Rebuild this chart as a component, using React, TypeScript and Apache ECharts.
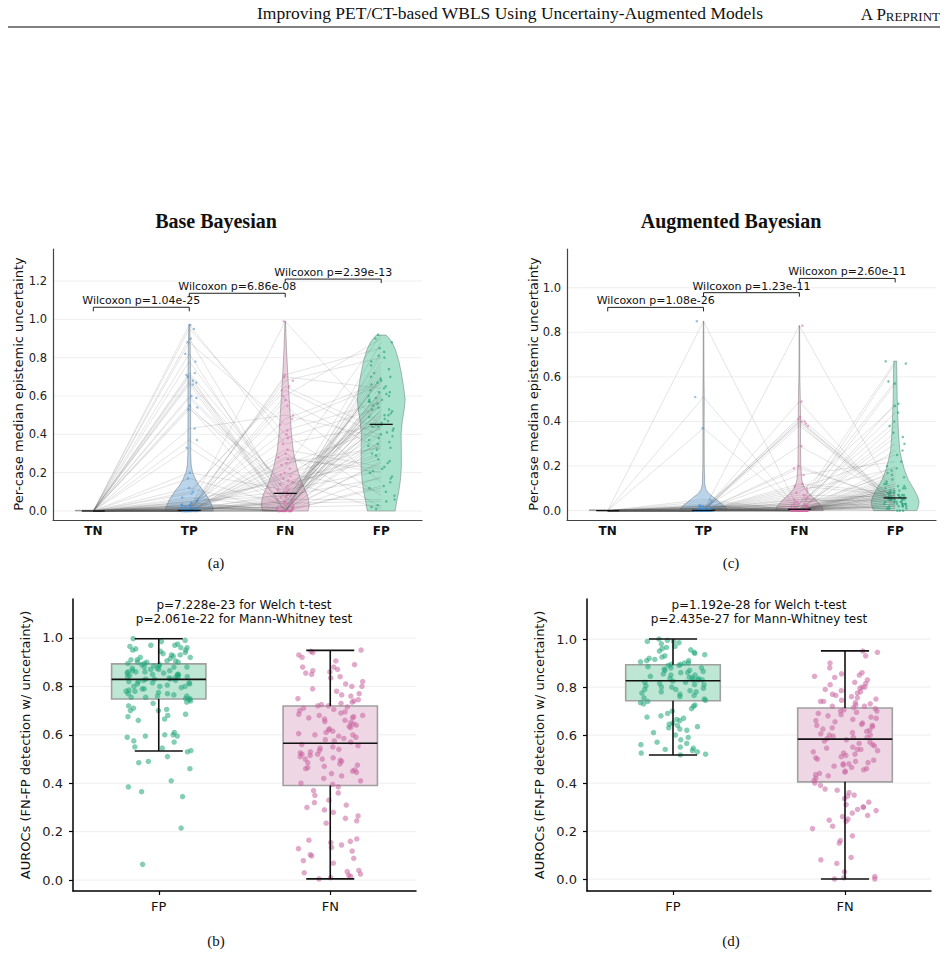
import React, { useEffect, useRef } from "react";
import * as echarts from "echarts";

// ---------- categories, ticks, texts ----------
const violinCats = ["TN", "TP", "FN", "FP"];
const boxCats = ["FP", "FN"];
const yTicksA = [0, 0.2, 0.4, 0.6, 0.8, 1.0, 1.2];
const yTicksC = [0, 0.2, 0.4, 0.6, 0.8, 1.0];
const yTicksBox = [0, 0.2, 0.4, 0.6, 0.8, 1.0];

const headerTitle = "Improving PET/CT-based WBLS Using Uncertainy-Augmented Models";
const panelTitles = ["Base Bayesian", "Augmented Bayesian"];
const panelTags = ["(a)", "(c)", "(b)", "(d)"];
const violinYLabel = "Per-case median epistemic uncertainty";
const boxYLabel = "AUROCs (FN-FP detection w/ uncertainty)";

const wilcoxonA = ["Wilcoxon p=1.04e-25", "Wilcoxon p=6.86e-08", "Wilcoxon p=2.39e-13"];
const wilcoxonC = ["Wilcoxon p=1.08e-26", "Wilcoxon p=1.23e-11", "Wilcoxon p=2.60e-11"];
const bracketPairs = [[0, 1], [1, 2], [2, 3]];
const bracketYA = [1.063, 1.136, 1.21];
const bracketYC = [0.912, 0.978, 1.042];

const testsB = ["p=7.228e-23 for Welch t-test", "p=2.061e-22 for Mann-Whitney test"];
const testsD = ["p=1.192e-28 for Welch t-test", "p=2.435e-27 for Mann-Whitney test"];

// ---------- panel (a): per-case medians, Base Bayesian ----------
const tnA = [
  0, 0, 0, 0, 0, 0, 0, 0, 0, 0, 0, 0, 0, 0, 0, 0, 0, 0, 0, 0,
  0, 0, 0, 0, 0, 0, 0, 0, 0, 0, 0, 0, 0, 0, 0, 0, 0, 0, 0, 0,
  0, 0, 0, 0, 0, 0, 0, 0, 0, 0, 0, 0, 0, 0, 0, 0, 0, 0, 0, 0,
  0, 0, 0, 0, 0, 0, 0, 0, 0, 0, 0, 0, 0, 0, 0, 0, 0, 0, 0, 0,
];
const tpA = [
  0.01, 0.97, 0.0, 0.02, 0.72, 0.005, 0.03, 0.0, 0.55, 0.01,
  0.04, 0.0, 0.88, 0.02, 0.006, 0.17, 0.0, 0.06, 0.68, 0.01,
  0.0, 0.03, 0.6, 0.008, 0.0, 0.95, 0.02, 0.05, 0.0, 0.33,
  0.012, 0.0, 0.7, 0.025, 0.0, 0.09, 0.54, 0.004, 0.0, 0.015,
  0.78, 0.0, 0.035, 0.01, 0.43, 0.0, 0.07, 0.02, 0.0, 0.67,
  0.005, 0.0, 0.12, 0.03, 0.59, 0.0, 0.01, 0.045, 0.9, 0.0,
  0.02, 0.37, 0.0, 0.008, 0.66, 0.0, 0.015, 0.2, 0.0, 0.03,
  0.53, 0.0, 0.01, 0.1, 0.71, 0.002, 0.0, 0.05, 0.82, 0.0,
];
const fnA = [
  0.02, 0.35, 0.0, 0.68, 0.12, 0.04, 0.0, 0.25, 0.07, 0.6,
  0.01, 0.18, 0.45, 0.0, 0.09, 0.03, 0.71, 0.15, 0.0, 0.3,
  0.05, 0.0, 0.11, 0.99, 0.02, 0.4, 0.0, 0.08, 0.22, 0.01,
  0.55, 0.06, 0.0, 0.14, 0.03, 0.65, 0.0, 0.2, 0.05, 0.0,
  0.1, 0.28, 0.01, 0.0, 0.5, 0.07, 0.02, 0.38, 0.0, 0.13,
  0.04, 0.7, 0.0, 0.17, 0.09, 0.01, 0.32, 0.0, 0.06, 0.48,
  0.0, 0.03, 0.24, 0.08, 0.0, 0.58, 0.02, 0.11, 0.0, 0.42,
  0.16, 0.0, 0.05, 0.63, 0.01, 0.27, 0.0, 0.1, 0.04, 0.19,
];
const fpA = [
  0.62, 0.45, 0.18, 0.8, 0.52, 0.05, 0.7, 0.33, 0.58, 0.9,
  0.25, 0.48, 0.66, 0.12, 0.55, 0.4, 0.85, 0.3, 0.6, 0.02,
  0.5, 0.74, 0.21, 0.44, 0.63, 0.08, 0.57, 0.36, 0.92, 0.47,
  0.15, 0.68, 0.53, 0.27, 0.61, 0.42, 0.78, 0.1, 0.56, 0.35,
  0.65, 0.2, 0.49, 0.72, 0.38, 0.59, 0.03, 0.54, 0.83, 0.29,
  0.46, 0.64, 0.13, 0.51, 0.41, 0.76, 0.23, 0.58, 0.06, 0.67,
  0.37, 0.88, 0.43, 0.17, 0.6, 0.32, 0.7, 0.5, 0.26, 0.57,
  0.01, 0.45, 0.62, 0.39, 0.81, 0.22, 0.53, 0.44, 0.69, 0.34,
];
const mediansA = [0.0, 0.003, 0.092, 0.452];

// ---------- panel (c): per-case medians, Augmented Bayesian ----------
const tnC = [
  0, 0, 0, 0, 0, 0, 0, 0, 0, 0, 0, 0, 0, 0, 0, 0, 0, 0, 0, 0,
  0, 0, 0, 0, 0, 0, 0, 0, 0, 0, 0, 0, 0, 0, 0, 0, 0, 0, 0, 0,
  0, 0, 0, 0, 0, 0, 0, 0, 0, 0, 0, 0, 0, 0, 0, 0, 0, 0, 0, 0,
  0, 0, 0, 0, 0, 0, 0, 0, 0, 0, 0, 0, 0, 0, 0, 0, 0, 0, 0, 0,
];
const tpC = [
  0.0, 0.01, 0.0, 0.85, 0.005, 0.0, 0.02, 0.0, 0.01, 0.0,
  0.003, 0.0, 0.51, 0.0, 0.01, 0.0, 0.02, 0.0, 0.004, 0.0,
  0.0, 0.015, 0.0, 0.0, 0.37, 0.0, 0.008, 0.0, 0.0, 0.01,
  0.0, 0.04, 0.0, 0.002, 0.0, 0.0, 0.012, 0.0, 0.0, 0.006,
  0.0, 0.0, 0.02, 0.0, 0.05, 0.0, 0.0, 0.01, 0.0, 0.0,
  0.003, 0.0, 0.0, 0.025, 0.0, 0.0, 0.008, 0.0, 0.0, 0.0,
  0.01, 0.0, 0.0, 0.03, 0.0, 0.0, 0.004, 0.0, 0.015, 0.0,
  0.0, 0.006, 0.0, 0.0, 0.02, 0.0, 0.0, 0.01, 0.0, 0.0,
];
const fnC = [
  0.01, 0.0, 0.4, 0.0, 0.03, 0.0, 0.02, 0.83, 0.0, 0.05,
  0.0, 0.01, 0.0, 0.08, 0.0, 0.42, 0.0, 0.02, 0.0, 0.1,
  0.0, 0.03, 0.49, 0.0, 0.0, 0.01, 0.0, 0.06, 0.38, 0.0,
  0.02, 0.0, 0.12, 0.0, 0.01, 0.0, 0.39, 0.0, 0.04, 0.0,
  0.0, 0.2, 0.0, 0.01, 0.0, 0.07, 0.0, 0.41, 0.0, 0.02,
  0.0, 0.16, 0.0, 0.0, 0.03, 0.0, 0.29, 0.0, 0.01, 0.0,
  0.05, 0.0, 0.19, 0.0, 0.02, 0.0, 0.0, 0.09, 0.0, 0.4,
  0.0, 0.01, 0.0, 0.04, 0.0, 0.11, 0.0, 0.0, 0.02, 0.0,
];
const fpC = [
  0.05, 0.12, 0.03, 0.02, 0.67, 0.08, 0.01, 0.06, 0.35, 0.04,
  0.1, 0.0, 0.07, 0.47, 0.02, 0.05, 0.15, 0.09, 0.03, 0.25,
  0.06, 0.58, 0.01, 0.11, 0.04, 0.3, 0.07, 0.0, 0.05, 0.18,
  0.44, 0.03, 0.08, 0.13, 0.06, 0.66, 0.02, 0.2, 0.05, 0.09,
  0.38, 0.04, 0.07, 0.01, 0.27, 0.06, 0.14, 0.03, 0.57, 0.08,
  0.05, 0.22, 0.0, 0.1, 0.4, 0.04, 0.06, 0.16, 0.02, 0.48,
  0.07, 0.33, 0.05, 0.12, 0.03, 0.09, 0.06, 0.19, 0.01, 0.05,
  0.08, 0.04, 0.11, 0.06, 0.02, 0.07, 0.03, 0.05, 0.17, 0.1,
];
const mediansC = [0.0, 0.001, 0.006, 0.057];

// ---------- violin densities: [value, relative density] ----------
const densityA_TN = [[0, 0.75], [0.004, 0.75]];
const densityA_TP = [[0, 1.0], [0.02, 0.97], [0.057, 0.84], [0.085, 0.7], [0.11, 0.56], [0.135, 0.4], [0.16, 0.28], [0.2, 0.14], [0.24, 0.08], [0.3, 0.06], [0.5, 0.055], [0.7, 0.055], [0.85, 0.04], [0.975, 0.02]];
const densityA_FN = [[0, 0.95], [0.03, 1.0], [0.06, 0.97], [0.09, 0.9], [0.14, 0.72], [0.18, 0.6], [0.23, 0.48], [0.31, 0.34], [0.4, 0.26], [0.5, 0.21], [0.58, 0.17], [0.66, 0.13], [0.75, 0.09], [0.85, 0.05], [0.93, 0.03], [0.99, 0.01]];
const densityA_FP = [[0, 0.58], [0.05, 0.65], [0.1, 0.73], [0.16, 0.8], [0.23, 0.84], [0.3, 0.84], [0.4, 0.83], [0.47, 0.88], [0.53, 0.96], [0.58, 1.0], [0.65, 0.93], [0.72, 0.84], [0.78, 0.74], [0.84, 0.6], [0.88, 0.45], [0.905, 0.3], [0.918, 0.2]];
const densityC_TN = [[0, 0.77], [0.004, 0.77]];
const densityC_TP = [[0, 1], [0.01, 0.97], [0.02, 0.88], [0.035, 0.7], [0.048, 0.56], [0.065, 0.36], [0.078, 0.21], [0.095, 0.1], [0.12, 0.05], [0.2, 0.03], [0.4, 0.025], [0.5, 0.03], [0.6, 0.02], [0.85, 0.01]];
const densityC_FN = [[0, 1], [0.018, 0.94], [0.03, 0.84], [0.048, 0.69], [0.065, 0.52], [0.078, 0.39], [0.095, 0.26], [0.108, 0.19], [0.125, 0.13], [0.14, 0.1], [0.2, 0.06], [0.3, 0.05], [0.4, 0.05], [0.5, 0.04], [0.6, 0.02], [0.7, 0.015], [0.83, 0.01]];
const densityC_FP = [[0, 0.9], [0.018, 0.97], [0.041, 1.0], [0.063, 0.94], [0.093, 0.8], [0.138, 0.55], [0.182, 0.39], [0.227, 0.28], [0.272, 0.19], [0.347, 0.14], [0.42, 0.11], [0.5, 0.085], [0.58, 0.075], [0.671, 0.06]];

// ---------- panel (b): AUROCs, Base Bayesian ----------
const aurocB_FP = [
  0.997, 0.99, 0.985, 0.975, 0.97, 0.97, 0.965, 0.96, 0.96, 0.955, 0.95, 0.95, 0.945, 0.94, 0.935,
  0.93, 0.93, 0.925, 0.92, 0.92, 0.915, 0.91, 0.91, 0.905, 0.905, 0.9, 0.9, 0.9, 0.895, 0.895,
  0.89, 0.89, 0.885, 0.885, 0.88, 0.88, 0.88, 0.875, 0.875, 0.87, 0.87, 0.865, 0.865, 0.86, 0.86,
  0.86, 0.855, 0.855, 0.85, 0.85, 0.85, 0.845, 0.845, 0.84, 0.84, 0.84, 0.835, 0.835, 0.83, 0.83, 0.83,
  0.825, 0.825, 0.82, 0.82, 0.815, 0.815, 0.81, 0.81, 0.805, 0.8, 0.8, 0.8, 0.795, 0.79, 0.79,
  0.785, 0.78, 0.78, 0.775, 0.77, 0.77, 0.765, 0.76, 0.76, 0.755, 0.755, 0.75, 0.75,
  0.745, 0.74, 0.735, 0.73, 0.72, 0.71, 0.705, 0.7, 0.7, 0.685, 0.68, 0.675, 0.665, 0.66,
  0.61, 0.6, 0.6, 0.595, 0.595, 0.59, 0.575, 0.57, 0.55, 0.545, 0.535, 0.53, 0.51, 0.49, 0.485,
  0.46, 0.41, 0.385, 0.365, 0.345, 0.215, 0.065,
];
const aurocB_FN = [
  0.95, 0.945, 0.94, 0.93, 0.92, 0.905, 0.89, 0.88, 0.88, 0.87, 0.865, 0.86, 0.855,
  0.85, 0.84, 0.835, 0.82, 0.81, 0.8, 0.8, 0.79, 0.78, 0.77, 0.765, 0.76, 0.75, 0.745, 0.74, 0.735, 0.73, 0.725, 0.72, 0.72,
  0.715, 0.71, 0.705, 0.7, 0.695, 0.69, 0.685, 0.68, 0.68, 0.675, 0.67, 0.67, 0.665, 0.66, 0.655, 0.65, 0.645, 0.64,
  0.635, 0.63, 0.625, 0.62, 0.615, 0.61, 0.605, 0.6, 0.6, 0.595, 0.59, 0.585, 0.58, 0.575, 0.57,
  0.56, 0.555, 0.55, 0.545, 0.54, 0.535, 0.53, 0.525, 0.52, 0.52, 0.515, 0.51, 0.505, 0.5, 0.5, 0.495,
  0.49, 0.485, 0.48, 0.475, 0.47, 0.465, 0.46, 0.455, 0.45, 0.445, 0.44, 0.43, 0.42, 0.41, 0.4, 0.395,
  0.385, 0.37, 0.36, 0.35, 0.33, 0.32, 0.31, 0.3, 0.29, 0.28, 0.265, 0.255, 0.245, 0.235,
  0.17, 0.165, 0.16, 0.155, 0.145, 0.135, 0.13, 0.12, 0.105, 0.1, 0.09, 0.08, 0.07, 0.04, 0.035,
  0.03, 0.025, 0.02, 0.015, 0.01, 0.005,
];
const boxB_FP = [0.533, 0.748, 0.829, 0.893, 0.997];
const boxB_FN = [0.005, 0.391, 0.565, 0.719, 0.949];

// ---------- panel (d): AUROCs, Augmented Bayesian ----------
const aurocD_FP = [
  1.0, 0.995, 0.99, 0.99, 0.985, 0.98, 0.97, 0.965, 0.96, 0.955, 0.95, 0.945, 0.94, 0.935, 0.93,
  0.925, 0.92, 0.915, 0.91, 0.91, 0.905, 0.9, 0.9, 0.895, 0.895,
  0.89, 0.89, 0.885, 0.88, 0.88, 0.875, 0.87, 0.87, 0.865, 0.86, 0.86, 0.855, 0.85, 0.85, 0.845,
  0.84, 0.84, 0.835, 0.835, 0.83, 0.83, 0.83,
  0.825, 0.82, 0.82, 0.815, 0.81, 0.81, 0.805, 0.8, 0.8, 0.795, 0.79, 0.79, 0.785, 0.78, 0.78,
  0.775, 0.77, 0.765, 0.76, 0.755, 0.75, 0.745,
  0.74, 0.735, 0.73, 0.725, 0.72, 0.71, 0.7, 0.69, 0.68, 0.675, 0.67, 0.665, 0.66, 0.65, 0.645,
  0.64, 0.635, 0.63, 0.625, 0.62, 0.61, 0.6, 0.59, 0.58, 0.57, 0.565, 0.56, 0.55, 0.545, 0.54,
  0.535, 0.53, 0.525, 0.52, 0.517,
];
const aurocD_FN = [
  0.95, 0.945, 0.93, 0.9, 0.88, 0.86, 0.855, 0.85, 0.845, 0.84, 0.83, 0.82, 0.815, 0.81, 0.8, 0.8,
  0.795, 0.79, 0.785, 0.78, 0.775, 0.77, 0.765, 0.76, 0.755, 0.75, 0.745, 0.74, 0.74, 0.735, 0.73,
  0.725, 0.72, 0.72, 0.715,
  0.71, 0.705, 0.7, 0.7, 0.695, 0.69, 0.685, 0.68, 0.675, 0.67, 0.665, 0.66, 0.655, 0.65, 0.645,
  0.64, 0.64, 0.635, 0.63, 0.625, 0.62, 0.615, 0.61, 0.605, 0.6, 0.6, 0.595, 0.59, 0.59, 0.585, 0.58,
  0.575, 0.57, 0.565, 0.56, 0.555, 0.55, 0.545, 0.54, 0.54, 0.535, 0.53, 0.525, 0.52, 0.515, 0.51,
  0.505, 0.5, 0.495, 0.49, 0.485, 0.48, 0.48, 0.475, 0.47, 0.465, 0.46, 0.455, 0.45, 0.445, 0.44,
  0.435, 0.43, 0.42, 0.41,
  0.4, 0.39, 0.375, 0.37, 0.36, 0.35, 0.345, 0.335, 0.32, 0.31, 0.3, 0.3, 0.29, 0.285, 0.275,
  0.265, 0.26, 0.25, 0.245, 0.24, 0.22, 0.21,
  0.18, 0.16, 0.15, 0.09, 0.08, 0.065, 0.03, 0.01, 0.005, 0.0, 0.0,
];
const boxD_FP = [0.517, 0.743, 0.826, 0.893, 1.0];
const boxD_FN = [0.0, 0.405, 0.583, 0.713, 0.951];

// ---------- styling constants ----------
const W = 948;
const H = 964;
const FONT = '"DejaVu Sans"';
const SERIF = '"Liberation Serif"';
const VIOLIN_HALF = 0.25;
const MEDIAN_HALF = 0.12;
const BOX_HALF = 0.275;
const CAP_HALF = 0.14;
const VIOLIN_JITTER = 0.09;
const BOX_JITTER = 0.19;
const violinFill = ["#cfcfcf", "#b9d4eb", "#eccdde", "#a8e2cd"];
const violinDot = ["#888888", "#4a8fd0", "#d36ba6", "#1e9e73"];
const boxFill = ["#bee6d5", "#eed6e5"];
const boxDot = ["#1fa67a", "#c9659f"];

// deterministic visual jitter (horizontal spread only)
const jit = (i: number, j: number, seed: number) => {
  const s = Math.sin((i + 1) * 12.9898 + seed * 78.233) * 43758.5453;
  return (s - Math.floor(s) - 0.5) * 2 * j;
};

function gridLines(idx: number, ticks: number[], xMin: number, xMax: number) {
  return {
    type: "custom", xAxisIndex: idx, yAxisIndex: idx, silent: true, z: 0,
    data: ticks.map((t) => [xMin, t]),
    renderItem: (params: any, api: any) => {
      const v = api.value(1);
      const p1 = api.coord([xMin, v]);
      const p2 = api.coord([xMax, v]);
      return { type: "line", shape: { x1: p1[0], y1: p1[1], x2: p2[0], y2: p2[1] }, style: { stroke: "#eeeeee", lineWidth: 1 } };
    },
  };
}

function violins(idx: number, profiles: number[][][]) {
  return {
    type: "custom", xAxisIndex: idx, yAxisIndex: idx, silent: true, z: 1,
    data: profiles.map((_, i) => [i, 0]),
    renderItem: (params: any, api: any) => {
      const i = params.dataIndex;
      const prof = profiles[i];
      const right = prof.map(([v, d]) => api.coord([i + d * VIOLIN_HALF, v]));
      const left = prof.slice().reverse().map(([v, d]) => api.coord([i - d * VIOLIN_HALF, v]));
      return {
        type: "polygon",
        shape: { points: right.concat(left) },
        style: { fill: violinFill[i], stroke: "rgba(70,70,70,0.5)", lineWidth: 0.7 },
      };
    },
  };
}

function pairedLines(idx: number, tn: number[], tp: number[], fn: number[], fp: number[]) {
  return {
    type: "custom", xAxisIndex: idx, yAxisIndex: idx, silent: true, z: 2,
    data: tn.map((v, i) => [0, v, tp[i], fn[i], fp[i]]),
    renderItem: (params: any, api: any) => {
      const pts = [0, 1, 2, 3].map((k) => api.coord([k, api.value(k + 1)]));
      return { type: "polyline", shape: { points: pts }, style: { stroke: "rgba(90,90,90,0.24)", lineWidth: 0.7, fill: "none" } };
    },
  };
}

function dots(idx: number, cat: number, vals: number[], color: string, j: number, size: number, opacity: number, seed: number) {
  return {
    type: "scatter", xAxisIndex: idx, yAxisIndex: idx, silent: true, z: 3,
    symbolSize: size,
    itemStyle: { color, opacity },
    data: vals.map((v, i) => [cat + jit(i, j, seed), v]),
  };
}

function medians(idx: number, meds: number[]) {
  return {
    type: "custom", xAxisIndex: idx, yAxisIndex: idx, silent: true, z: 4,
    data: meds.map((m, i) => [i, m]),
    renderItem: (params: any, api: any) => {
      const c = api.value(0);
      const m = api.value(1);
      const p1 = api.coord([c - MEDIAN_HALF, m]);
      const p2 = api.coord([c + MEDIAN_HALF, m]);
      return { type: "line", shape: { x1: p1[0], y1: p1[1], x2: p2[0], y2: p2[1] }, style: { stroke: "#111", lineWidth: 1.3 } };
    },
  };
}

function brackets(idx: number, ys: number[], labels: string[]) {
  return {
    type: "custom", xAxisIndex: idx, yAxisIndex: idx, silent: true, z: 5,
    data: bracketPairs.map((p, i) => [p[0], ys[i], p[1]]),
    renderItem: (params: any, api: any) => {
      const a = api.coord([api.value(0), api.value(1)]);
      const b = api.coord([api.value(2), api.value(1)]);
      const mid = (a[0] + b[0]) / 2;
      return {
        type: "group",
        children: [
          {
            type: "polyline",
            shape: { points: [[a[0], a[1] + 4], [a[0], a[1]], [b[0], b[1]], [b[0], b[1] + 4]] },
            style: { stroke: "#222", lineWidth: 1, fill: "none" },
          },
          {
            type: "text", x: mid, y: a[1] - 1,
            style: {
              text: labels[params.dataIndex], fill: "#111", font: `11px ${FONT}`,
              align: "center", verticalAlign: "bottom", textAlign: "center", textVerticalAlign: "bottom",
            },
          },
        ],
      };
    },
  };
}

function boxRects(idx: number, stats: number[][]) {
  return {
    type: "custom", xAxisIndex: idx, yAxisIndex: idx, silent: true, z: 1,
    data: stats.map((s, i) => [i, ...s]),
    renderItem: (params: any, api: any) => {
      const c = api.value(0);
      const p1 = api.coord([c - BOX_HALF, api.value(4)]);
      const p2 = api.coord([c + BOX_HALF, api.value(2)]);
      return {
        type: "rect",
        shape: { x: p1[0], y: p1[1], width: p2[0] - p1[0], height: p2[1] - p1[1] },
        style: { fill: boxFill[params.dataIndex], stroke: "#a0a0a0", lineWidth: 1.6 },
      };
    },
  };
}

function boxLines(idx: number, stats: number[][]) {
  return {
    type: "custom", xAxisIndex: idx, yAxisIndex: idx, silent: true, z: 4,
    data: stats.map((s, i) => [i, ...s]),
    renderItem: (params: any, api: any) => {
      const c = api.value(0);
      const mn = api.value(1), q1 = api.value(2), md = api.value(3), q3 = api.value(4), mx = api.value(5);
      const seg = (x1: number, y1: number, x2: number, y2: number) => {
        const a = api.coord([x1, y1]);
        const b = api.coord([x2, y2]);
        return { type: "line", shape: { x1: a[0], y1: a[1], x2: b[0], y2: b[1] }, style: { stroke: "#111", lineWidth: 1.6 } };
      };
      return {
        type: "group",
        children: [
          seg(c, q1, c, mn),
          seg(c, q3, c, mx),
          seg(c - CAP_HALF, mn, c + CAP_HALF, mn),
          seg(c - CAP_HALF, mx, c + CAP_HALF, mx),
          seg(c - BOX_HALF, md, c + BOX_HALF, md),
        ],
      };
    },
  };
}

function violinX(gi: number, min: number, max: number) {
  return {
    type: "value", gridIndex: gi, min, max,
    axisLine: { show: true, onZero: false, lineStyle: { color: "#444", width: 1.2 } },
    axisTick: { show: false },
    splitLine: { show: false },
    axisLabel: {
      customValues: [0, 1, 2, 3],
      formatter: (v: number) => violinCats[Math.round(v)],
      fontWeight: "bold", fontSize: 12, color: "#111", margin: 5, fontFamily: "DejaVu Sans",
    },
  };
}

function violinY(gi: number, min: number, max: number, ticks: number[]) {
  return {
    type: "value", gridIndex: gi, min, max,
    axisLine: { show: true, onZero: false, lineStyle: { color: "#444", width: 1.2 } },
    axisTick: { show: false },
    splitLine: { show: false },
    axisLabel: {
      customValues: ticks,
      formatter: (v: number) => v.toFixed(1),
      fontSize: 11.5, color: "#222", margin: 6, fontFamily: "DejaVu Sans",
    },
  };
}

function boxX(gi: number) {
  return {
    type: "value", gridIndex: gi, min: -0.5, max: 1.5,
    axisLine: { show: true, onZero: false, lineStyle: { color: "#000", width: 1.5 } },
    axisTick: { show: true, customValues: [0, 1], length: 4, lineStyle: { color: "#000", width: 1.2 } },
    splitLine: { show: false },
    axisLabel: {
      customValues: [0, 1],
      formatter: (v: number) => boxCats[Math.round(v)],
      fontSize: 13, color: "#111", margin: 9, fontFamily: "DejaVu Sans",
    },
  };
}

function boxY(gi: number, min: number, max: number) {
  return {
    type: "value", gridIndex: gi, min, max,
    axisLine: { show: true, onZero: false, lineStyle: { color: "#000", width: 1.5 } },
    axisTick: { show: true, customValues: yTicksBox, length: 4, lineStyle: { color: "#000", width: 1.2 } },
    splitLine: { show: false },
    axisLabel: {
      customValues: yTicksBox,
      formatter: (v: number) => v.toFixed(1),
      fontSize: 13, color: "#222", margin: 10, fontFamily: "DejaVu Sans",
    },
  };
}

function txt(text: string, x: number, y: number, font: string, extra: any = {}) {
  return {
    type: "text", x, y, silent: true, ...extra,
    style: { text, font, fill: "#111", align: "center", verticalAlign: "middle", textAlign: "center", textVerticalAlign: "middle", ...(extra.style || {}) },
  };
}

function buildOption() {
  const xA = [-0.42, 3.425];
  const xC = [-0.425, 3.426];
  return {
    animation: false,
    backgroundColor: "#ffffff",
    textStyle: { fontFamily: "DejaVu Sans" },
    grid: [
      { left: 53, top: 249, width: 369, height: 271 },
      { left: 567, top: 249, width: 369, height: 271 },
      { left: 73, top: 599, width: 343, height: 292 },
      { left: 587, top: 599, width: 344, height: 292 },
    ],
    xAxis: [violinX(0, xA[0], xA[1]), violinX(1, xC[0], xC[1]), boxX(2), boxX(3)],
    yAxis: [
      violinY(0, -0.047, 1.367, yTicksA),
      violinY(1, -0.042, 1.174, yTicksC),
      boxY(2, -0.045, 1.161),
      boxY(3, -0.05, 1.167),
    ],
    series: [
      // panel (a)
      gridLines(0, yTicksA, xA[0], xA[1]),
      violins(0, [densityA_TN, densityA_TP, densityA_FN, densityA_FP]),
      pairedLines(0, tnA, tpA, fnA, fpA),
      dots(0, 1, tpA, violinDot[1], VIOLIN_JITTER, 2.5, 0.55, 1),
      dots(0, 2, fnA, violinDot[2], VIOLIN_JITTER, 2.5, 0.55, 2),
      dots(0, 3, fpA, violinDot[3], 0.14, 2.5, 0.6, 3),
      medians(0, mediansA),
      brackets(0, bracketYA, wilcoxonA),
      // panel (c)
      gridLines(1, yTicksC, xC[0], xC[1]),
      violins(1, [densityC_TN, densityC_TP, densityC_FN, densityC_FP]),
      pairedLines(1, tnC, tpC, fnC, fpC),
      dots(1, 1, tpC, violinDot[1], VIOLIN_JITTER, 2.5, 0.55, 4),
      dots(1, 2, fnC, violinDot[2], VIOLIN_JITTER, 2.5, 0.55, 5),
      dots(1, 3, fpC, violinDot[3], 0.12, 2.5, 0.6, 6),
      medians(1, mediansC),
      brackets(1, bracketYC, wilcoxonC),
      // panel (b)
      gridLines(2, yTicksBox, -0.5, 1.5),
      boxRects(2, [boxB_FP, boxB_FN]),
      dots(2, 0, aurocB_FP, boxDot[0], BOX_JITTER, 5.5, 0.55, 7),
      dots(2, 1, aurocB_FN, boxDot[1], BOX_JITTER, 5.5, 0.55, 8),
      boxLines(2, [boxB_FP, boxB_FN]),
      // panel (d)
      gridLines(3, yTicksBox, -0.5, 1.5),
      boxRects(3, [boxD_FP, boxD_FN]),
      dots(3, 0, aurocD_FP, boxDot[0], BOX_JITTER, 5.5, 0.55, 9),
      dots(3, 1, aurocD_FN, boxDot[1], BOX_JITTER, 5.5, 0.55, 10),
      boxLines(3, [boxD_FP, boxD_FN]),
    ],
    graphic: [
      txt(headerTitle, 510, 13, `17.5px ${SERIF}`),
      {
        type: "text", x: 940, y: 14, silent: true,
        style: {
          text: "{a|A P}{b|REPRINT}",
          rich: {
            a: { font: `17px ${SERIF}`, fill: "#111", verticalAlign: "bottom" },
            b: { font: `13px ${SERIF}`, fill: "#111", verticalAlign: "bottom" },
          },
          align: "right", verticalAlign: "middle", textAlign: "right", textVerticalAlign: "middle",
        },
      },
      { type: "line", silent: true, shape: { x1: 8, y1: 27, x2: 940, y2: 27 }, style: { stroke: "#000", lineWidth: 1 } },
      txt(panelTitles[0], 216, 221, `bold 20px ${SERIF}`),
      txt(panelTitles[1], 731, 221, `bold 20px ${SERIF}`),
      txt(violinYLabel, 18, 384, `13px ${FONT}`, { rotation: Math.PI / 2 }),
      txt(violinYLabel, 533, 384, `13px ${FONT}`, { rotation: Math.PI / 2 }),
      txt(boxYLabel, 25, 745, `13px ${FONT}`, { rotation: Math.PI / 2 }),
      txt(boxYLabel, 539, 745, `13px ${FONT}`, { rotation: Math.PI / 2 }),
      txt(testsB[0], 244, 605, `12px ${FONT}`),
      txt(testsB[1], 244, 619, `12px ${FONT}`),
      txt(testsD[0], 759, 605, `12px ${FONT}`),
      txt(testsD[1], 759, 619, `12px ${FONT}`),
      txt(panelTags[0], 216, 563, `15px ${SERIF}`),
      txt(panelTags[1], 731, 563, `15px ${SERIF}`),
      txt(panelTags[2], 216, 941, `15px ${SERIF}`),
      txt(panelTags[3], 731, 941, `15px ${SERIF}`),
    ],
  };
}

export default function App() {
  const ref = useRef<HTMLDivElement>(null);
  useEffect(() => {
    if (!ref.current) return;
    const chart = echarts.init(ref.current, undefined, { renderer: "svg", width: W, height: H });
    chart.setOption(buildOption() as any);
    return () => chart.dispose();
  }, []);
  return (
    <div
      ref={ref}
      style={{ position: "absolute", left: 0, top: 0, width: W, height: H, background: "#fff" }}
    />
  );
}
